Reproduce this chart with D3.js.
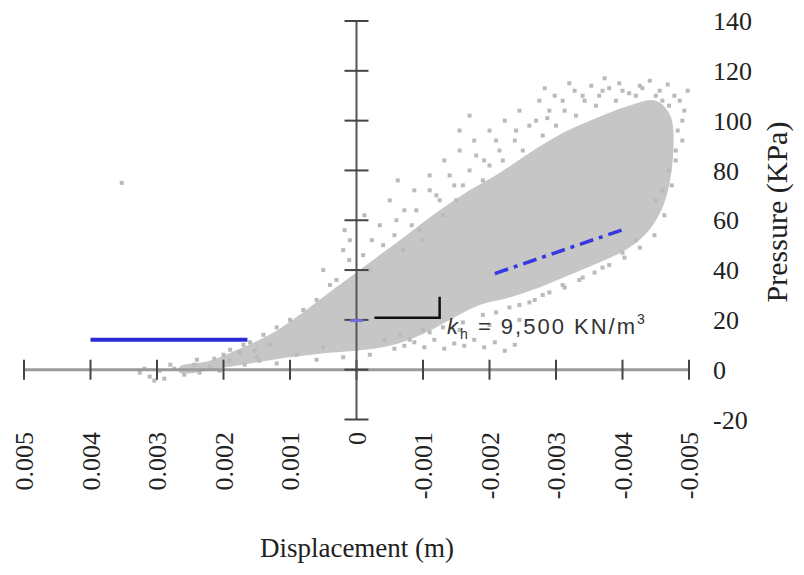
<!DOCTYPE html>
<html><head><meta charset="utf-8">
<script src="https://cdn.jsdelivr.net/npm/d3@7"></script>
<style>body{margin:0;background:#fff}svg{display:block}</style>
</head><body><svg id="c" width="804" height="575"></svg>
<script>
// ---- data ----
const xTicks = [0.005,0.004,0.003,0.002,0.001,0,-0.001,-0.002,-0.003,-0.004,-0.005];
const yTicks = [-20,0,20,40,60,80,100,120,140];
// dense core of the measured cloud [displacement m, pressure kPa]
const cloudCore = [
 [0.00266,-1.2],[0.00191,1.2],[0.00116,4.4],[0.00041,6.8],[0,7.6],[-0.0005,9.6],[-0.00095,13.7],
 [-0.0014,20],[-0.00185,26],[-0.0023,29],[-0.00275,33],[-0.0032,38],[-0.00365,43],
 [-0.0041,49],[-0.0044,56],[-0.00463,67],[-0.00476,86],
 [-0.00472,102],[-0.0045,108],[-0.0041,106],[-0.0036,101],[-0.0031,95],[-0.0026,87],[-0.00215,79],
 [-0.0017,72],[-0.00125,64],[-0.0008,55],[-0.00035,46],[0,39],[0.00041,31],[0.00086,22],
 [0.00131,14],[0.00176,8.4],[0.00221,3.6],[0.00266,1.2]
];
// scattered measurements around the core
const cloudPoints = [
 [0.00018,56],[-0.00012,62],[-0.00023,52],[0.00011,44],[-0.00035,58],[-0.0005,68],[-0.00057,54],
 [-0.00072,64],[-0.00087,72],[-0.00095,56],[-0.0011,78],[-0.00125,68],[-0.00132,84],[-0.00147,74],
 [-0.00155,88],[-0.0017,80],[-0.00177,92],[-0.00192,84],[-0.002,96],[-0.00215,88],[-0.00223,100],
 [-0.00238,92],[-0.00245,104],[-0.0026,98],[-0.00275,108],[-0.00287,101],[-0.00298,110],[-0.00313,104],
 [-0.00328,112],[-0.00343,108],[-0.00353,114],[-0.00365,110],[-0.0038,113],[-0.00395,115],[-0.0041,111],
 [-0.00426,114],[-0.00441,116],[-0.00456,112],[-0.00468,114.5],[-0.00478,110],[-0.00486,108],
 [-0.0032,115],[-0.00373,117],[-0.00283,113],[-0.00155,96],[-0.0011,72],[-0.00083,58],[-0.00062,76],
 [-0.0017,102],
 [0.0003,36],[0.0002,48],[-0.0001,46],[-0.0002,40],[-0.0004,50],[-0.0006,60],[-0.0007,48],[-0.0009,64],
 [-0.001,52],[-0.0012,70],[-0.0013,62],[-0.0014,78],[-0.0015,68],[-0.0016,74],[-0.0018,86],[-0.0019,76],
 [-0.002,82],[-0.0021,92],[-0.0022,84],[-0.0024,96],[-0.0025,88],[-0.0027,100],[-0.0028,94],[-0.0029,104],
 [-0.003,98],[-0.0031,108],[-0.0033,102],[-0.0034,110],[-0.0036,106],[-0.0037,112],[-0.0039,108],
 [-0.004,112],[-0.0042,110],[-0.0043,113],[-0.0045,110],[-0.0046,108],[-0.0047,106],[-0.0049,100],
 [-0.0049,92],[-0.0048,88],[-0.0047,80],[-0.0046,72],[-0.0045,68],
 [-0.00042,12],[-0.00057,8.4],[-0.00072,9.6],[-0.00087,11],[-0.00102,9],[-0.00117,12],[-0.00132,8.4],
 [-0.00147,10.5],[-0.00162,9.6],[-0.00177,12],[-0.00192,9],[-0.00208,11],[-0.00223,7.6],[-0.00238,10],
 [-0.00065,14],[-0.0011,15],[-0.00155,16],[-0.002,18],[-0.00245,20],
 [-0.0042,52],[-0.004,47],[-0.0037,41],[-0.0034,37],[-0.0031,34],[-0.0028,30],[-0.0026,27],[-0.0023,25],
 [-0.0021,23],[-0.0019,22],[-0.0016,19],[-0.0013,17],[-0.001,16],[-0.0008,12],
 [0.00326,-1.2],[0.00311,-2.8],[0.00296,-0.4],[0.00289,-3.6],[0.00274,0.4],[0.00259,-2],[0.00244,2],
 [0.00236,-1.2],[0.00221,1.2],[0.00214,4.4],[0.00206,-0.4],[0.00191,3.6],[0.00176,7],[0.00168,2],
 [0.00153,7.6],[0.00146,3.6],[0.00319,0.4],[0.00304,-4.4],
 [0.0009,6],[0.0006,4],[0.0012,2.5],[0.0015,5],[0.0005,9],[0.0002,5],[-0.0002,6],[0.0013,10],[0.0017,10],
 [0.002,6],[0.0024,4],[0.0028,2],
 [0.0004,34],[0.0006,28],[0.0008,24],[0.001,20],[0.0012,17],[0.0014,14],[0.0016,11],[0.0019,8],
 [0.0005,40],[0.0001,52],
 [-0.00245,26],[-0.00268,28],[-0.0029,31],[-0.00313,33],[-0.00335,36],[-0.00358,39],[-0.0038,42],
 [-0.00403,45],[-0.00426,49],[-0.00448,54],[-0.00463,62],[-0.00474,74],[-0.0048,84],[-0.00483,96],
 [-0.00493,104],[-0.00498,112],
 [0.00353,75]
];
const flatFit = [[0.004,12],[0.00164,12]];
const slopeFit = [[-0.00208,38.6],[-0.004,56.2]];
const centerMark = [[0.0001,19.7],[-0.0001,19.7]];
const slopeBracket = [[-0.00027,20.9],[-0.00125,20.9],[-0.00125,29.3]];
const xTitle = "Displacement (m)";
const yTitle = "Pressure (KPa)";

// ---- chart ----
const svg = d3.select("#c");
const x = d3.scaleLinear().domain([0.005,-0.005]).range([24,689]);
const y = d3.scaleLinear().domain([-20,140]).range([419.5,21]);
const serif = "'Liberation Serif','Times New Roman',serif";

// cloud
svg.append("path").datum(cloudCore)
  .attr("d", d3.line().x(d=>x(d[0])).y(d=>y(d[1])).curve(d3.curveCatmullRomClosed))
  .attr("fill","#c6c6c6");
svg.append("g").selectAll("rect").data(cloudPoints).join("rect")
  .attr("x",d=>x(d[0])-2).attr("y",d=>y(d[1])-2).attr("width",4).attr("height",4)
  .attr("fill","#bababa");

// x axis (horizontal through pressure 0)
const xa = svg.append("g");
xa.append("line").attr("x1",x(0.005)).attr("x2",x(-0.005)).attr("y1",y(0)).attr("y2",y(0))
  .attr("stroke","#9a9a9a").attr("stroke-width",3);
xa.selectAll("line.t").data(xTicks).join("line").attr("class","t")
  .attr("x1",d=>x(d)).attr("x2",d=>x(d)).attr("y1",y(0)-10).attr("y2",y(0)+10)
  .attr("stroke","#444").attr("stroke-width",2);
xa.selectAll("text").data(xTicks).join("text")
  .attr("transform",d=>`translate(${x(d)},432) rotate(-90)`)
  .attr("text-anchor","end").attr("dy","0.35em")
  .attr("font-family",serif).attr("font-size",26).attr("fill","#222")
  .text(d=>String(d));

// y axis (vertical through displacement 0)
const ya = svg.append("g");
ya.append("line").attr("x1",x(0)).attr("x2",x(0)).attr("y1",y(140)).attr("y2",y(-20))
  .attr("stroke","#555").attr("stroke-width",2);
ya.selectAll("line.t").data(yTicks).join("line").attr("class","t")
  .attr("x1",x(0)-12).attr("x2",x(0)+12).attr("y1",d=>y(d)).attr("y2",d=>y(d))
  .attr("stroke","#444").attr("stroke-width",2);
ya.selectAll("text").data(yTicks).join("text")
  .attr("x",713).attr("y",d=>y(d)).attr("dy","0.35em")
  .attr("font-family",serif).attr("font-size",26).attr("fill","#222")
  .text(d=>String(d));

// fits
const ln = d3.line().x(d=>x(d[0])).y(d=>y(d[1]));
svg.append("path").datum(flatFit).attr("d",ln).attr("stroke","#2b2bd6").attr("stroke-width",4).attr("fill","none");
svg.append("path").datum(slopeFit).attr("d",ln).attr("stroke","#3838e0").attr("stroke-width",3.5)
  .attr("stroke-dasharray","14,6,4,6").attr("fill","none");
svg.append("path").datum(centerMark).attr("d",ln).attr("stroke","#7070d8").attr("stroke-width",3).attr("fill","none");
svg.append("path").datum(slopeBracket).attr("d",ln).attr("stroke","#111").attr("stroke-width",2.5).attr("fill","none");

// annotation
const ann = svg.append("text").attr("x",447).attr("y",334)
  .attr("font-family","'Liberation Sans',Arial,sans-serif").attr("font-size",22)
  .attr("letter-spacing",2).attr("fill","#333");
ann.append("tspan").attr("font-style","italic").text("k");
ann.append("tspan").attr("font-size",14).attr("dy",5).text("h");
ann.append("tspan").attr("dy",-5).text(" = 9,500 KN/m");
ann.append("tspan").attr("font-size",14).attr("dy",-10).text("3");

// titles
svg.append("text").attr("x",357).attr("y",557).attr("text-anchor","middle")
  .attr("font-family",serif).attr("font-size",27).attr("fill","#222").text(xTitle);
svg.append("text").attr("transform","translate(776,212) rotate(-90)").attr("text-anchor","middle")
  .attr("dy","0.35em").attr("font-family",serif).attr("font-size",30).attr("fill","#222").text(yTitle);
</script></body></html>
